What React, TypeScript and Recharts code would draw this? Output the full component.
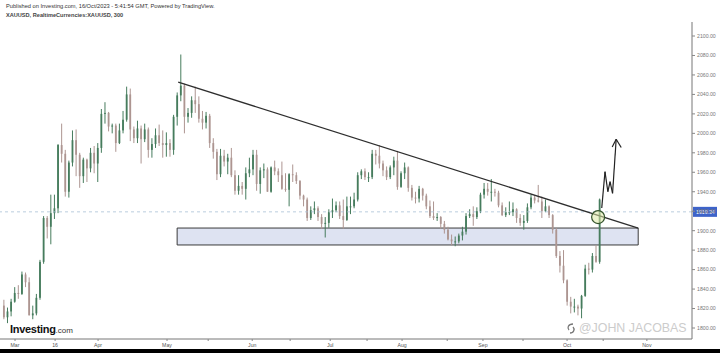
import React from 'react'
import {
  ComposedChart,
  Bar,
  XAxis,
  YAxis,
  ReferenceLine,
  ReferenceArea,
  ReferenceDot,
} from 'recharts'

// XAU/USD daily bars, x = trading-day index (0 = 1 Mar 2023), first bar is 24 Feb
const firstDay = -3

const opens = [
  1823, 1811, 1817,
  1827, 1836, 1835, 1855, 1847, 1813, 1815, 1831, 1868, 1913, 1904, 1918, 1923, 1988, 1979, 1940, 1970, 1993, 1978, 1956, 1973, 1964, 1980,
  1969, 1985, 2020, 2021, 2007, 2008, 1990, 2003, 2014, 2040, 2004, 1995, 2005, 1994, 2004, 1983, 1989, 1998, 1990, 1988,
  1990, 1983, 2017, 2039, 2049, 2017, 2021, 2034, 2030, 2015, 2011, 2018, 1990, 1981, 1958, 1977, 1971, 1975, 1957, 1941, 1946, 1943, 1959,
  1963, 1978, 1948, 1962, 1963, 1940, 1965, 1961, 1957, 1943, 1942, 1958, 1957, 1951, 1936, 1932, 1913, 1921, 1923, 1914, 1907, 1908,
  1919, 1921, 1926, 1915, 1911, 1925, 1925, 1932, 1957, 1961, 1955, 1955, 1979, 1977, 1969, 1962, 1955, 1965, 1972, 1945, 1959,
  1965, 1944, 1934, 1933, 1943, 1936, 1925, 1915, 1913, 1914, 1907, 1901, 1891, 1889, 1889, 1895, 1899, 1915, 1917, 1914, 1920, 1937, 1943,
  1940, 1940, 1939, 1926, 1916, 1919, 1919, 1922, 1913, 1908, 1910, 1924, 1934, 1931, 1930, 1920, 1925, 1916, 1901, 1874, 1864,
  1849, 1827, 1822, 1822, 1820, 1833, 1861, 1860, 1874, 1868,
]
const highs = [
  1829, 1821, 1830,
  1842, 1844, 1858, 1857, 1852, 1823, 1835, 1870, 1915, 1915, 1937, 1937, 1989, 2010, 1983, 1972, 2003, 2004, 1980, 1975, 1974, 1985, 1987,
  1990, 2025, 2032, 2022, 2010, 2010, 2010, 2023, 2048, 2046, 2007, 2013, 2008, 2010, 2006, 1995, 2005, 2009, 2003, 2001,
  1994, 2019, 2042, 2081, 2051, 2026, 2038, 2048, 2038, 2023, 2022, 2020, 1995, 1984, 1984, 1983, 1979, 1985, 1962, 1957, 1950, 1965, 1975,
  1983, 1983, 1965, 1969, 1965, 1966, 1972, 1964, 1971, 1959, 1959, 1968, 1960, 1952, 1937, 1934, 1925, 1930, 1925, 1917, 1914, 1922,
  1933, 1930, 1930, 1932, 1935, 1935, 1939, 1960, 1963, 1964, 1960, 1983, 1983, 1988, 1972, 1966, 1967, 1976, 1982, 1961, 1970,
  1966, 1947, 1940, 1946, 1944, 1938, 1931, 1930, 1918, 1915, 1910, 1904, 1896, 1894, 1897, 1904, 1918, 1922, 1925, 1924, 1939, 1949, 1949,
  1953, 1943, 1941, 1929, 1924, 1930, 1929, 1923, 1917, 1916, 1928, 1937, 1936, 1947, 1935, 1932, 1926, 1917, 1903, 1879, 1880,
  1850, 1832, 1830, 1824, 1834, 1865, 1867, 1877, 1885, 1933,
]
const lows = [
  1809, 1805, 1812,
  1826, 1830, 1834, 1842, 1813, 1809, 1813, 1829, 1866, 1892, 1886, 1912, 1918, 1970, 1935, 1934, 1966, 1956, 1944, 1949, 1950, 1960, 1959,
  1950, 1980, 2010, 2002, 2000, 1981, 1989, 2000, 2012, 1992, 1990, 1990, 1969, 1991, 1975, 1975, 1985, 1987, 1975, 1976,
  1976, 1978, 2008, 2033, 2000, 2011, 2016, 2021, 2011, 2004, 2005, 1985, 1974, 1952, 1955, 1966, 1958, 1955, 1937, 1937, 1937, 1932, 1955,
  1957, 1941, 1938, 1954, 1940, 1939, 1957, 1950, 1942, 1940, 1925, 1950, 1948, 1932, 1925, 1910, 1911, 1917, 1910, 1902, 1893, 1903,
  1913, 1919, 1912, 1902, 1910, 1917, 1923, 1930, 1953, 1952, 1950, 1953, 1968, 1964, 1956, 1952, 1953, 1957, 1942, 1944, 1953,
  1940, 1931, 1928, 1929, 1931, 1922, 1913, 1911, 1910, 1902, 1897, 1890, 1885, 1884, 1887, 1890, 1896, 1913, 1905, 1912, 1918, 1933, 1936,
  1930, 1935, 1924, 1915, 1914, 1916, 1915, 1908, 1905, 1901, 1908, 1922, 1928, 1929, 1913, 1919, 1913, 1897, 1872, 1857, 1846,
  1823, 1815, 1816, 1813, 1810, 1832, 1855, 1857, 1867, 1866,
]
const closes = [
  1811, 1817, 1827,
  1836, 1835, 1855, 1847, 1813, 1815, 1831, 1868, 1913, 1904, 1918, 1923, 1988, 1979, 1940, 1970, 1993, 1978, 1956, 1973, 1964, 1980, 1969,
  1985, 2020, 2021, 2007, 2008, 1990, 2003, 2014, 2040, 2004, 1995, 2005, 1994, 2004, 1983, 1989, 1998, 1990, 1988, 1990,
  1983, 2017, 2039, 2049, 2017, 2021, 2034, 2030, 2015, 2011, 2018, 1990, 1981, 1958, 1977, 1971, 1975, 1957, 1941, 1946, 1943, 1959, 1963,
  1978, 1948, 1962, 1963, 1940, 1965, 1961, 1957, 1943, 1942, 1958, 1957, 1951, 1936, 1932, 1913, 1921, 1923, 1914, 1907, 1908, 1919,
  1921, 1926, 1915, 1911, 1925, 1925, 1932, 1957, 1961, 1955, 1955, 1979, 1977, 1969, 1962, 1955, 1965, 1972, 1945, 1959, 1965,
  1944, 1934, 1933, 1943, 1936, 1925, 1915, 1913, 1914, 1907, 1901, 1891, 1889, 1889, 1895, 1899, 1915, 1917, 1914, 1920, 1937, 1943, 1940,
  1940, 1939, 1926, 1916, 1919, 1919, 1922, 1913, 1908, 1910, 1924, 1934, 1931, 1930, 1920, 1925, 1916, 1901, 1874, 1864, 1849,
  1827, 1822, 1822, 1820, 1833, 1861, 1860, 1874, 1868, 1932,
]

const xTicks = [0, 11.1, 23, 42.1, 53.5, 65.7, 76.2, 87.3, 97.5, 107.2, 119.7, 129.6, 140.7, 152.9, 162.9, 175]
const xTickLabels = ['Mar', '16', 'Apr', 'May', '', 'Jun', '', 'Jul', '', 'Aug', '', 'Sep', '', 'Oct', '', 'Nov']
const yTicks = [1800, 1820, 1840, 1860, 1880, 1900, 1920, 1940, 1960, 1980, 2000, 2020, 2040, 2060, 2080, 2100]

const lastPrice = 1919.34
// drawn annotations
const trendline = [{ x: 45.2, y: 2052.7 }, { x: 172.6, y: 1902.7 }]
const supportZone = { x1: 44.9, x2: 172.6, y1: 1885.3, y2: 1902.7 }
const breakout = { x: 161.5, y: 1914 }
const arrowPath = [
  { x: 162.5, y: 1923.3 },
  { x: 163.4, y: 1960.6 },
  { x: 164.2, y: 1940.0 },
  { x: 164.8, y: 1950.3 },
  { x: 165.5, y: 1938.4 },
  { x: 166.5, y: 1993.9 },
]
const arrowHead = [{ x: 165.4, y: 1986.0 }, { x: 166.5, y: 1993.9 }, { x: 167.9, y: 1985.4 }]

const UP = '#467c5d'
const DOWN = '#ad9591'

const candles = opens.map((o, i) => ({
  x: firstDay + i,
  open: o,
  high: highs[i],
  low: lows[i],
  close: closes[i],
  range: [lows[i], highs[i]],
}))

function Candle(props: any) {
  const { x, y, width, height, payload } = props
  if (!payload || height == null) return null
  const { open, close, high, low } = payload
  const top = Math.min(y, y + height)
  const h = Math.abs(height)
  const span = high - low || 1
  const py = (v: number) => top + ((high - v) / span) * h
  const cx = x + width / 2
  const color = close >= open ? UP : DOWN
  const bTop = py(Math.max(open, close))
  const bBot = py(Math.min(open, close))
  return (
    <g>
      <line x1={cx} x2={cx} y1={top} y2={top + h} stroke={color} strokeWidth={1} />
      <rect x={cx - 0.9} y={bTop} width={1.8} height={Math.max(bBot - bTop, 1)} fill={color} />
    </g>
  )
}

function PriceTag(props: any) {
  const vb = props.viewBox
  if (!vb) return null
  const x = vb.x + vb.width + 1
  return (
    <g>
      <rect x={x} y={vb.y - 5} width={24} height={10} fill="#3d63c9" />
      <text x={x + 3} y={vb.y + 2} fontSize={5.2} fill="#fff">
        {lastPrice.toFixed(2)}
      </text>
    </g>
  )
}

export default function App() {
  return (
    <div
      style={{
        position: 'absolute',
        left: 0,
        top: 0,
        width: 720,
        height: 353,
        background: '#fff',
        fontFamily: '"Liberation Sans", Arial, sans-serif',
        overflow: 'hidden',
      }}
    >
      <div style={{ position: 'absolute', left: 6, top: 3, fontSize: 5.7, color: '#333', whiteSpace: 'nowrap' }}>
        Published on Investing.com, 16/Oct/2023 - 5:41:54 GMT, Powered by TradingView.
      </div>
      <div
        style={{ position: 'absolute', left: 6, top: 12, fontSize: 5.6, fontWeight: 700, color: '#444', whiteSpace: 'nowrap' }}
      >
        XAUUSD, RealtimeCurrencies:XAUUSD, 300
      </div>

      <ComposedChart width={720} height={353} data={candles} margin={{ top: 22, right: 0, bottom: 0, left: 0 }}>
        <XAxis
          dataKey="x"
          type="number"
          domain={[-4.16, 187.5]}
          allowDataOverflow
          ticks={xTicks}
          interval={0}
          tickFormatter={(v: number) => xTickLabels[xTicks.indexOf(v)] ?? ''}
          tick={{ fontSize: 5.2, fill: '#555' }}
          tickSize={2}
          tickLine={{ stroke: '#888' }}
          axisLine={{ stroke: '#777' }}
          height={14}
        />
        <YAxis
          orientation="right"
          type="number"
          domain={[1788.7, 2114.4]}
          allowDataOverflow
          ticks={yTicks}
          interval={0}
          tickFormatter={(v: number) => v.toFixed(2)}
          tick={{ fontSize: 5.2, fill: '#777' }}
          tickSize={3}
          tickLine={{ stroke: '#888' }}
          axisLine={{ stroke: '#777' }}
          width={28}
        />
        <ReferenceArea
          x1={supportZone.x1}
          x2={supportZone.x2}
          y1={supportZone.y1}
          y2={supportZone.y2}
          fill="#d6dcef"
          fillOpacity={0.8}
          stroke="#3a3a3a"
          strokeWidth={1}
        />
        <ReferenceLine
          y={lastPrice}
          stroke="#a9c0d6"
          strokeDasharray="3 3"
          strokeWidth={0.8}
          label={<PriceTag />}
        />
        <Bar dataKey="range" barSize={3} shape={<Candle />} isAnimationActive={false} />
        <ReferenceLine segment={trendline} stroke="#2e2e2e" strokeWidth={1.3} />
        <ReferenceDot
          x={breakout.x}
          y={breakout.y}
          r={6.5}
          fill="#dfe9a6"
          fillOpacity={0.55}
          stroke="#34532c"
          strokeWidth={1.2}
        />
        {arrowPath.slice(1).map((p, i) => (
          <ReferenceLine key={'a' + i} segment={[arrowPath[i], p]} stroke="#222" strokeWidth={1.2} />
        ))}
        {arrowHead.slice(1).map((p, i) => (
          <ReferenceLine key={'h' + i} segment={[arrowHead[i], p]} stroke="#222" strokeWidth={1.2} />
        ))}
      </ComposedChart>

      <div style={{ position: 'absolute', left: 10, top: 320, whiteSpace: 'nowrap', lineHeight: 1 }}>
        <span style={{ fontSize: 11, fontWeight: 700, color: '#111', letterSpacing: -0.3 }}>Investing</span>
        <span style={{ fontSize: 8, color: '#333' }}>.com</span>
      </div>
      <div
        style={{
          position: 'absolute',
          left: 565,
          top: 322,
          whiteSpace: 'nowrap',
          fontSize: 12.4,
          color: '#cccccc',
          lineHeight: 1,
          display: 'flex',
          alignItems: 'center',
        }}
      >
        <svg width={12} height={13} style={{ marginRight: 2 }}>
          <path d="M8 2 C3 2 2 6 4 8 M5 11 C9 11 10 7 8 5" stroke="#777" strokeWidth={1.3} fill="none" />
        </svg>
        @JOHN JACOBAS
      </div>
      <div style={{ position: 'absolute', left: 0, top: 349, width: 720, height: 4, background: '#000' }} />
    </div>
  )
}
